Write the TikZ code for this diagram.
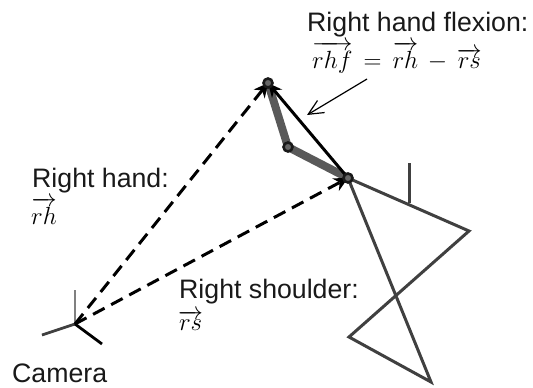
\documentclass[tikz,border=0pt]{standalone}
\usepackage{fontspec}
\usepackage{amsmath}
\setmainfont{Liberation Sans}
\usetikzlibrary{arrows.meta}
\definecolor{limb}{gray}{0.25}
\tikzset{
  lbl/.style={anchor=base west,inner sep=0pt,font=\fontsize{26.7}{30}\selectfont,text=black!90},
  mth/.style={anchor=base west,inner sep=0pt,font=\fontsize{27}{32}\selectfont},
  limbline/.style={draw=limb,line width=3pt,line join=miter},
  arm/.style={draw=black!65,line width=8pt},
  joint/.style={circle,draw=black!90,fill=black!60,line width=2.6pt,minimum size=9pt,inner sep=0pt},
  ray/.style={draw=black,line width=3pt,dash pattern=on 13pt off 7.5pt,-{Stealth[length=14pt,width=14pt]}},
  vec/.style={draw=black,line width=3pt},
}
\begin{document}
\begin{tikzpicture}[x=1pt,y=-1pt]
\useasboundingbox (0,0) rectangle (533,388);
\coordinate (hand) at (268,83);
\coordinate (elbow) at (288,147);
\coordinate (shoulder) at (348,178);
\coordinate (neck) at (409,203);
\coordinate (head) at (409,163);
\coordinate (oshoulder) at (469,231);
\coordinate (hipa) at (349,337);
\coordinate (hipb) at (431,382);
\coordinate (cam) at (75,324);
\coordinate (camup) at (75,290);
\coordinate (camleft) at (42,335);
\coordinate (camright) at (102,344);
\coordinate (notefrom) at (367,79);
\coordinate (noteto) at (307,115);
% skeleton
\draw[limbline] (head) -- (neck);
\draw[limbline] (shoulder) -- (oshoulder) -- (hipa) -- (hipb) -- (shoulder);
\draw[arm] (shoulder) -- (elbow) -- (hand);
% camera axes
\draw[draw=black!50,line width=2.8pt] (cam) -- (camup);
\draw[draw=black!75,line width=2.8pt] (cam) -- (camleft);
\draw[draw=black,line width=2.8pt] (cam) -- (camright);
% vectors
\draw[ray] (cam) -- (hand);
\draw[ray] (cam) -- (shoulder);
\draw[vec,-{Stealth[length=14pt,width=13pt]}] (shoulder) -- (hand);
\draw[draw=black,line width=1.2pt,-{Straight Barb[length=15pt,width=18pt,angle'=50]}] (notefrom) -- (noteto);
% joints
\node[joint] (j1) at (hand) {};
\node[joint] (j2) at (elbow) {};
\node[joint] (j3) at (shoulder) {};
% labels
\node[lbl] (t1) at (307,31) {Right hand flexion:};
\node[mth] (m1) at (312,68) {$\overrightarrow{rhf}\,=\,\overrightarrow{rh}\,-\,\overrightarrow{rs}$};
\node[lbl] (t2) at (32,187) {Right hand:};
\node[mth] (m2) at (31,224) {$\overrightarrow{rh}$};
\node[lbl] (t3) at (179,298) {Right shoulder:};
\node[mth] (m3) at (178,330) {$\overrightarrow{rs}$};
\node[lbl] (t4) at (12,382) {Camera};
\end{tikzpicture}
\end{document}
